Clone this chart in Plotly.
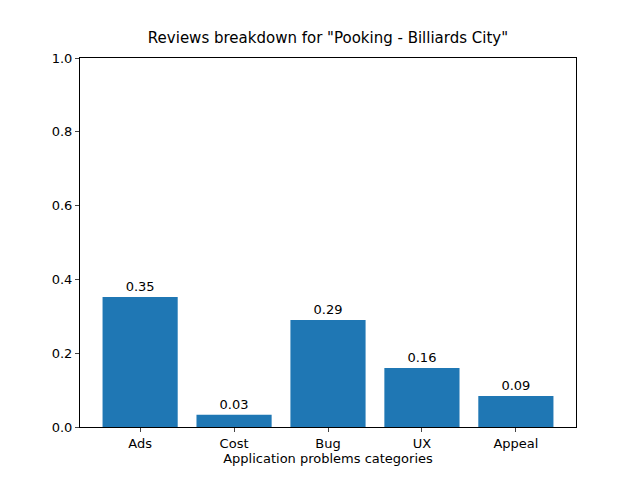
import plotly.graph_objects as go

categories = ["Ads", "Cost", "Bug", "UX", "Appeal"]
values = [0.352, 0.033, 0.29, 0.16, 0.084]
labels = ["0.35", "0.03", "0.29", "0.16", "0.09"]

fig = go.Figure(go.Bar(x=list(range(len(categories))), y=values, width=0.8,
                       marker_color="#1f77b4", marker_line_width=0,
                       text=labels, textposition="outside", cliponaxis=False,
                       textfont=dict(size=13, color="black")))
fig.update_layout(
    width=640, height=480, plot_bgcolor="white", paper_bgcolor="white",
    margin=dict(l=72, r=72, t=50, b=61),
    font=dict(family="DejaVu Sans", size=13, color="black"),
    title=dict(text='Reviews breakdown for "Pooking - Billiards City"', x=0.5, xanchor="center",
               y=1 - 30/480, yanchor="middle", font=dict(size=15)),
    showlegend=False,
)
fig.update_xaxes(range=[-0.64, 4.64], tickvals=list(range(len(categories))), ticktext=categories,
                 showline=True, mirror=True, linecolor="black", ticks="outside", ticklen=4,
                 title=dict(text="Application problems categories", standoff=4, font=dict(size=13)),
                 showgrid=False)
fig.update_yaxes(range=[0, 1], tickvals=[0, 0.2, 0.4, 0.6, 0.8, 1.0],
                 ticktext=["0.0", "0.2", "0.4", "0.6", "0.8", "1.0"],
                 showline=True, mirror=True, linecolor="black", ticks="outside", ticklen=4,
                 showgrid=False, zeroline=False)
fig.write_html("out.html")
